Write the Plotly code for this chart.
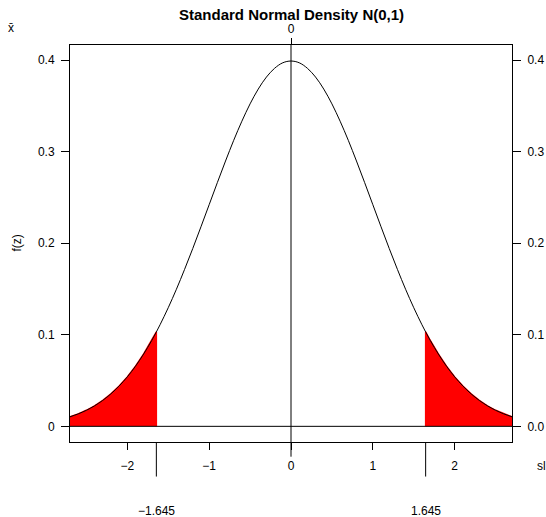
import plotly.graph_objects as go

# grid of z values and the standard normal density read at each point
z = [-2.7, -2.6, -2.5, -2.4, -2.3, -2.2, -2.1, -2.0, -1.9, -1.8, -1.7, -1.6, -1.5, -1.4,
     -1.3, -1.2, -1.1, -1.0, -0.9, -0.8, -0.7, -0.6, -0.5, -0.4, -0.3, -0.2, -0.1, 0.0,
     0.1, 0.2, 0.3, 0.4, 0.5, 0.6, 0.7, 0.8, 0.9, 1.0, 1.1, 1.2, 1.3, 1.4, 1.5, 1.6,
     1.7, 1.8, 1.9, 2.0, 2.1, 2.2, 2.3, 2.4, 2.5, 2.6, 2.7]
fz = [0.0104, 0.0136, 0.0175, 0.0224, 0.0283, 0.0355, 0.0440, 0.0540, 0.0656, 0.0790,
      0.0940, 0.1109, 0.1295, 0.1497, 0.1714, 0.1942, 0.2179, 0.2420, 0.2661, 0.2897,
      0.3123, 0.3332, 0.3521, 0.3683, 0.3814, 0.3910, 0.3970, 0.3989, 0.3970, 0.3910,
      0.3814, 0.3683, 0.3521, 0.3332, 0.3123, 0.2897, 0.2661, 0.2420, 0.2179, 0.1942,
      0.1714, 0.1497, 0.1295, 0.1109, 0.0940, 0.0790, 0.0656, 0.0540, 0.0440, 0.0355,
      0.0283, 0.0224, 0.0175, 0.0136, 0.0104]

crit_vals = [-1.645, 1.645]
crit_dens = [0.1031, 0.1031]
crit_labels = ["\u22121.645", "1.645"]

x_ticks = [-2, -1, 0, 1, 2]
x_ticklabels = ["\u22122", "\u22121", "0", "1", "2"]
y_ticks = [0, 0.1, 0.2, 0.3, 0.4]
y_ticklabels_left = ["0", "0.1", "0.2", "0.3", "0.4"]
y_ticklabels_right = ["0.0", "0.1", "0.2", "0.3", "0.4"]

title = "Standard Normal Density N(0,1)"
ylab = "f(z)"

FONT = "Liberation Sans, Arial, sans-serif"

# tails
left_x = [v for v in z if v <= crit_vals[0]] + [crit_vals[0]]
left_y = [d for v, d in zip(z, fz) if v <= crit_vals[0]] + [crit_dens[0]]
right_x = [crit_vals[1]] + [v for v in z if v >= crit_vals[1]]
right_y = [crit_dens[1]] + [d for v, d in zip(z, fz) if v >= crit_vals[1]]

fig = go.Figure()
for tx, ty in [(left_x, left_y), (right_x, right_y)]:
    fig.add_trace(go.Scatter(
        x=[tx[0]] + tx + [tx[-1]], y=[0] + ty + [0], mode="lines",
        fill="toself", fillcolor="#ff0000",
        line=dict(color="#ff0000", width=1.5), hoverinfo="skip", showlegend=False))

fig.add_trace(go.Scatter(x=z, y=fz, mode="lines", line=dict(color="black", width=1),
                         line_shape="spline", showlegend=False))
# dummy trace to activate secondary axes
fig.add_trace(go.Scatter(x=[0], y=[0], xaxis="x2", yaxis="y2", mode="lines",
                         line=dict(width=0), hoverinfo="skip", showlegend=False))

XR = [-2.7, 2.7]
YR = [-0.0171, 0.4164]
tickfont = dict(family=FONT, size=12, color="black")

fig.update_layout(
    width=546, height=517,
    margin=dict(l=70, r=34, t=45, b=75, autoexpand=False),
    plot_bgcolor="white", paper_bgcolor="white",
    showlegend=False,
    xaxis=dict(range=XR, showgrid=False, zeroline=False, showline=True, mirror=True,
               linecolor="black", linewidth=1, ticks="outside", ticklen=7,
               tickcolor="black", tickwidth=1, tickvals=x_ticks, ticktext=x_ticklabels,
               tickfont=tickfont, ticklabelstandoff=6, automargin=False),
    yaxis=dict(range=YR, showgrid=False, zeroline=False, showline=True, mirror=True,
               linecolor="black", linewidth=1, ticks="outside", ticklen=8,
               tickcolor="black", tickwidth=1, tickvals=y_ticks, ticktext=y_ticklabels_left,
               tickfont=tickfont, ticklabelstandoff=4, automargin=False),
    xaxis2=dict(range=XR, overlaying="x", side="top", showgrid=False, zeroline=False,
                showline=False, ticks="outside", ticklen=6, tickcolor="black",
                tickvals=[0], ticktext=["0"], tickfont=tickfont, automargin=False),
    yaxis2=dict(range=YR, overlaying="y", side="right", showgrid=False, zeroline=False,
                showline=False, ticks="outside", ticklen=8, tickcolor="black",
                tickvals=y_ticks, ticktext=y_ticklabels_right, tickfont=tickfont,
                ticklabelstandoff=4, automargin=False),
)

shapes = [
    dict(type="line", xref="x", yref="paper", x0=0, x1=0, y0=-0.037, y1=1.0,
         line=dict(color="black", width=1)),
    dict(type="line", xref="paper", yref="y", x0=0, x1=1, y0=0, y1=0,
         line=dict(color="black", width=1)),
]
for c in crit_vals:
    shapes.append(dict(type="line", xref="x", yref="paper", x0=c, x1=c, y0=0, y1=-0.087,
                       line=dict(color="black", width=1)))
fig.update_layout(shapes=shapes)

ann = [
    dict(text="<b>" + title + "</b>", xref="paper", yref="paper", x=0.5, y=1.076,
         xanchor="center", yanchor="middle", showarrow=False,
         font=dict(family=FONT, size=15, color="black")),
    dict(text="x\u0304", xref="paper", yref="paper", x=-0.133, y=1.043,
         xanchor="center", yanchor="middle", showarrow=False,
         font=dict(family=FONT, size=12, color="black")),
    dict(text=ylab, xref="paper", yref="paper", x=-0.122, y=0.5, textangle=-90,
         xanchor="center", yanchor="middle", showarrow=False,
         font=dict(family=FONT, size=12, color="black")),
    dict(text="sl", xref="paper", yref="paper", x=1.052, y=-0.061,
         xanchor="left", yanchor="middle", showarrow=False,
         font=dict(family=FONT, size=12, color="black")),
]
for c, lab in zip(crit_vals, crit_labels):
    ann.append(dict(text=lab, xref="x", yref="paper", x=c, y=-0.175,
                    xanchor="center", yanchor="middle", showarrow=False,
                    font=dict(family=FONT, size=12, color="black")))
fig.update_layout(annotations=ann)

fig.write_html("out.html", config={"displayModeBar": False, "staticPlot": True},
               post_script="document.body.style.margin='0';document.body.style.overflow='hidden';")
